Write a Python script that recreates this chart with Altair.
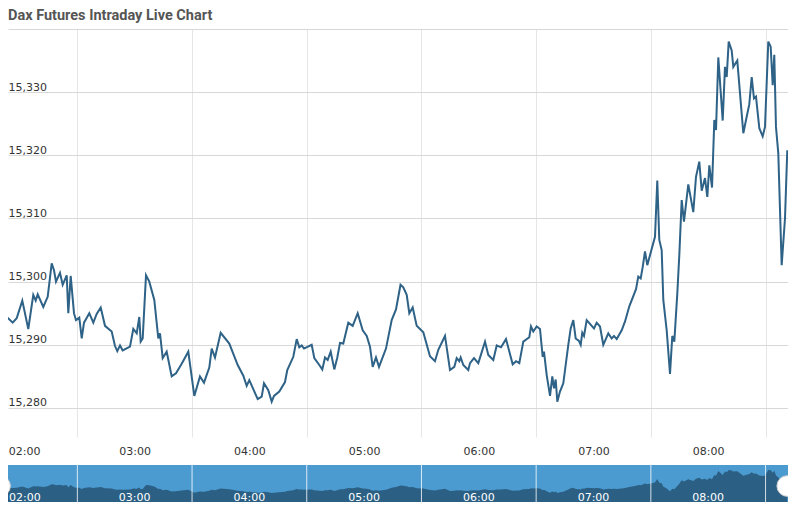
import altair as alt
import pandas as pd

title_text = "Dax Futures Intraday Live Chart"

times = [
    "01:49:32", "01:53:03", "01:56:11", "01:58:16", "02:01:12", "02:04:20", "02:06:57", "02:08:13",
    "02:09:16", "02:12:11", "02:14:29", "02:16:35", "02:17:47", "02:18:50", "02:20:55", "02:22:20",
    "02:24:26", "02:25:16", "02:26:31", "02:28:15", "02:29:18", "02:31:01", "02:32:17", "02:33:29",
    "02:36:15", "02:38:21", "02:40:07", "02:42:13", "02:44:28", "02:47:58", "02:49:42", "02:50:54",
    "02:52:19", "02:53:43", "02:57:32", "02:59:16", "03:01:03", "03:02:24", "03:03:08", "03:04:11",
    "03:05:55", "03:07:38", "03:10:15", "03:12:21", "03:13:14", "03:14:39", "03:16:44", "03:19:21",
    "03:21:36", "03:24:35", "03:28:02", "03:31:11", "03:34:09", "03:36:15", "03:39:01", "03:40:17",
    "03:42:00", "03:44:59", "03:49:29", "03:53:53", "03:56:49", "03:58:35", "03:59:57", "04:04:21",
    "04:06:26", "04:07:38", "04:09:53", "04:11:40", "04:12:52", "04:15:38", "04:18:37", "04:19:49",
    "04:22:58", "04:24:45", "04:26:06", "04:27:22", "04:28:34", "04:32:35", "04:33:57", "04:36:34",
    "04:38:08", "04:39:33", "04:40:57", "04:42:32", "04:44:25", "04:45:59", "04:47:24", "04:49:07",
    "04:51:44", "04:54:02", "04:56:39", "04:59:16", "05:01:22", "05:03:05", "05:04:30", "05:06:13",
    "05:07:48", "05:11:27", "05:14:26", "05:16:41", "05:19:03", "05:20:30", "05:22:17", "05:23:39",
    "05:25:25", "05:27:31", "05:30:58", "05:34:28", "05:37:05", "05:38:49", "05:42:19", "05:44:56",
    "05:47:11", "05:48:26", "05:49:48", "05:50:32", "05:51:53", "05:54:30", "05:55:24", "05:57:29",
    "05:59:44", "06:03:15", "06:04:58", "06:07:35", "06:09:22", "06:11:37", "06:14:14", "06:17:44",
    "06:19:27", "06:21:11", "06:23:17", "06:26:25", "06:27:18", "06:28:30", "06:30:17", "06:32:01",
    "06:33:25", "06:34:06", "06:35:31", "06:37:15", "06:38:27", "06:39:20", "06:40:13", "06:41:04",
    "06:42:28", "06:44:12", "06:46:49", "06:48:04", "06:49:26", "06:50:41", "06:52:25", "06:53:18",
    "06:54:08", "06:55:02", "06:56:26", "07:00:15", "07:01:40", "07:03:24", "07:05:07", "07:07:44",
    "07:09:31", "07:10:43", "07:12:08", "07:14:45", "07:16:29", "07:18:44", "07:22:14", "07:23:26",
    "07:24:41", "07:25:44", "07:26:56", "07:28:08", "07:32:10", "07:33:22", "07:34:25", "07:35:40",
    "07:36:31", "07:38:17", "07:40:01", "07:41:13", "07:42:16", "07:43:50", "07:44:53", "07:46:08",
    "07:47:20", "07:49:35", "07:52:12", "07:53:37", "07:55:20", "07:56:36", "07:58:19", "07:59:32",
    "08:00:35", "08:02:00", "08:03:12", "08:04:05", "08:05:17", "08:07:35", "08:08:47", "08:09:41",
    "08:10:43", "08:12:17", "08:13:08", "08:15:13", "08:18:22", "08:20:08", "08:21:30", "08:22:45",
    "08:23:57", "08:25:00", "08:26:44", "08:28:30", "08:29:42", "08:31:26", "08:32:41", "08:33:44",
    "08:34:34", "08:35:27", "08:36:40", "08:38:26", "08:40:10", "08:41:22",
]

prices = [
    15298.4, 15294.4, 15293.5, 15294.2, 15297.0, 15292.5, 15297.9, 15297.0,
    15298.0, 15296.0, 15297.6, 15302.9, 15301.8, 15300.0, 15301.4, 15299.5,
    15301.0, 15295.0, 15300.9, 15295.0, 15293.9, 15294.3, 15291.0, 15293.5,
    15295.0, 15293.5, 15294.9, 15295.9, 15293.0, 15292.1, 15289.8, 15289.0,
    15289.9, 15289.1, 15289.7, 15292.5, 15291.8, 15294.4, 15290.5, 15291.0,
    15301.0, 15300.0, 15297.1, 15291.0, 15291.8, 15287.9, 15288.9, 15285.0,
    15285.5, 15287.0, 15288.9, 15281.9, 15285.0, 15284.0, 15286.4, 15289.4,
    15288.0, 15291.9, 15290.2, 15286.8, 15285.1, 15283.5, 15284.4, 15281.4,
    15281.8, 15283.9, 15282.8, 15281.0, 15281.9, 15282.6, 15284.1, 15286.0,
    15288.1, 15290.9, 15289.6, 15289.9, 15289.4, 15290.0, 15287.9, 15286.8,
    15286.1, 15288.0, 15287.6, 15288.9, 15286.1, 15288.0, 15290.3, 15290.2,
    15293.5, 15293.0, 15295.0, 15292.3, 15291.4, 15289.7, 15286.5, 15288.0,
    15286.5, 15289.4, 15293.9, 15295.6, 15299.5, 15299.1, 15297.9, 15295.0,
    15295.9, 15293.0, 15292.0, 15288.2, 15287.4, 15289.2, 15291.4, 15286.0,
    15286.5, 15287.9, 15287.4, 15288.0, 15286.8, 15286.0, 15287.1, 15287.9,
    15287.1, 15290.5, 15288.4, 15287.6, 15289.9, 15289.6, 15290.9, 15286.9,
    15287.4, 15287.1, 15290.5, 15291.2, 15292.9, 15292.1, 15292.9, 15292.5,
    15288.1, 15288.9, 15285.2, 15281.9, 15285.0, 15283.1, 15284.5, 15281.0,
    15282.6, 15283.9, 15290.0, 15292.6, 15293.9, 15291.0, 15290.6, 15290.0,
    15291.9, 15291.4, 15293.9, 15292.6, 15293.5, 15292.9, 15290.0, 15291.8,
    15291.0, 15291.4, 15290.9, 15292.3, 15293.7, 15296.1, 15298.8, 15300.8,
    15300.5, 15302.3, 15304.8, 15302.6, 15307.1, 15316.0, 15306.6, 15305.0,
    15297.1, 15292.3, 15285.4, 15291.4, 15290.5, 15298.1, 15304.2, 15312.9,
    15309.5, 15315.4, 15311.0, 15316.6, 15319.0, 15314.4, 15316.4, 15313.4,
    15318.4, 15314.9, 15325.6, 15324.0, 15335.5, 15325.5, 15334.0, 15332.4,
    15338.0, 15336.6, 15334.0, 15335.0, 15323.5, 15326.1, 15328.1, 15332.4,
    15329.0, 15329.3, 15324.3, 15323.0, 15324.5, 15338.0, 15337.2, 15331.1,
    15335.9, 15324.5, 15320.3, 15302.6, 15310.0, 15320.8,
]

y_ticks = [15280, 15290, 15300, 15310, 15320, 15330, 15340]
hour_labels = ["02:00", "03:00", "04:00", "05:00", "06:00", "07:00", "08:00"]
grid_hours = [2.5, 3.5, 4.5, 5.5, 6.5, 7.5, 8.5]


def to_hours(s):
    h, m, sec = (int(p) for p in s.split(":"))
    return h + m / 60 + sec / 3600


df = pd.DataFrame({"hour": [to_hours(t) for t in times], "price": prices, "time": times})
grid_df = pd.DataFrame({"hour": grid_hours})
label_df = pd.DataFrame({"hour": [to_hours(l + ":00") for l in hour_labels], "label": hour_labels})
handle_df = pd.DataFrame({"hour": [df["hour"].min(), df["hour"].max()]})
one_row = pd.DataFrame({"k": [0]})

FONT = "DejaVu Sans"
x_scale = alt.Scale(domain=[1.8954, 8.6957], nice=False, zero=False)
x_axis = alt.Axis(
    values=grid_hours, grid=True, gridColor="#e6e6e6", gridWidth=1,
    ticks=False, tickSize=0, domain=False, labelFlush=False,
    labelExpr="(floor(datum.value) < 10 ? '0' : '') + floor(datum.value) + ':00'",
    labelAlign={"condition": {"test": "datum.value < 3", "value": "left"}, "value": "center"},
    labelOffset={"condition": {"test": "datum.value < 3", "value": -69}, "value": -57.35},
    labelPadding=17.5, labelBaseline="alphabetic",
    labelFont=FONT, labelFontSize=11, labelColor="#333333", title=None,
)
X = alt.X("hour:Q", scale=x_scale, axis=x_axis)

line = alt.Chart(df).mark_line(color="#2e6287", strokeWidth=2).encode(
    x=X,
    y=alt.Y(
        "price:Q",
        scale=alt.Scale(domain=[15275.4, 15340], nice=False, zero=False),
        axis=alt.Axis(
            values=y_ticks, grid=True, gridColor="#d8d8d8", gridWidth=1,
            ticks=False, tickSize=0, domain=False,
            labelAlign="left", labelPadding=0, labelOffset=-2, labelBaseline="alphabetic",
            labelExpr="datum.value >= 15340 ? '' : format(datum.value, ',')",
            labelFont=FONT, labelFontSize=11, labelColor="#333333", title=None,
        ),
    ),
)

nav_bg = alt.Chart(one_row).mark_rect(color="#4b9bd0").encode(
    x=alt.value(0), x2=alt.value(780), y=alt.value(436), y2=alt.value(476)
)

nav_area = alt.Chart(df).mark_area(color="#2c5f84", opacity=1).encode(
    x=X,
    y=alt.Y("price:Q", scale=alt.Scale(domain=[15253.8, 15350.4], range=[475, 436], nice=False, zero=False), axis=None),
    y2=alt.value(476),
)

nav_rules = alt.Chart(grid_df).mark_rule(color="#ffffff", strokeWidth=1, opacity=0.8).encode(
    x=X, y=alt.value(436), y2=alt.value(476)
)

handles = alt.Chart(handle_df).mark_point(
    shape="circle", filled=True, fill="#ffffff", stroke="#cfcfcf", strokeWidth=1, opacity=1, size=430
).encode(x=X, y=alt.value(457))

nav_text_first = alt.Chart(label_df).transform_filter("datum.hour < 3").mark_text(
    color="#ffffff", font=FONT, fontSize=11, align="left", baseline="alphabetic", dx=-11
).encode(x=X, y=alt.value(471.5), text="label:N")

nav_text = alt.Chart(label_df).transform_filter("datum.hour >= 3").mark_text(
    color="#ffffff", font=FONT, fontSize=11, align="center", baseline="alphabetic"
).encode(x=X, y=alt.value(471.5), text="label:N")

title = alt.Chart(one_row).mark_text(
    font="Roboto", fontSize=14.5, fontWeight="bold", color="#555555", align="left", baseline="alphabetic"
).encode(x=alt.value(0), y=alt.value(-9.5), text=alt.value(title_text))

chart = (
    alt.layer(line, nav_bg, nav_area, nav_rules, handles, nav_text_first, nav_text, title)
    .resolve_scale(y="independent")
    .properties(
        width=780, height=408,
        autosize=alt.AutoSizeParams(type="none"),
        padding={"left": 0, "top": 21, "right": 0, "bottom": 65},
        background="#ffffff",
    )
    .configure_view(stroke=None)
)

chart.save("out.html", embed_options={"renderer": "svg", "actions": False})
